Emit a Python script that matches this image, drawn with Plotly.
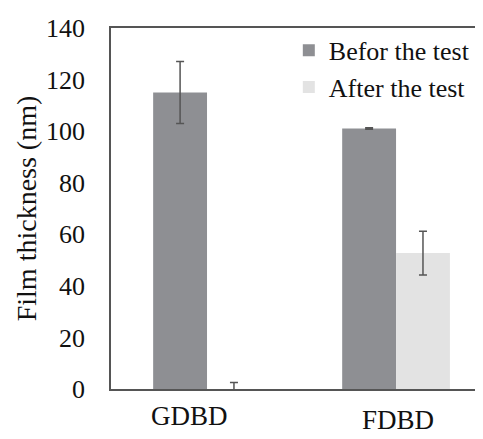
import plotly.graph_objects as go

categories = ["GDBD", "FDBD"]
before_values = [115, 101]
before_errors = [12, 0.3]
after_values = [0, 52.7]
after_errors = [2.5, 8.5]
series_names = ["Befor the test", "After the test"]
y_ticks = [0, 20, 40, 60, 80, 100, 120, 140]

font_family = "Liberation Serif, Times New Roman, serif"
err_style = dict(type="data", visible=True, color="#555555", thickness=1.5, width=4)

fig = go.Figure()
fig.add_trace(go.Bar(
    x=categories, y=before_values, name=series_names[0],
    marker=dict(color="#8e8f93", line=dict(width=0)),
    error_y=dict(array=before_errors, **err_style),
))
fig.add_trace(go.Bar(
    x=categories, y=after_values, name=series_names[1],
    marker=dict(color="#e3e3e3", line=dict(width=0)),
    error_y=dict(array=after_errors, **err_style),
))

# category labels below the axis (offsets as in the reference)
label_offsets = {"GDBD": (-18, -11), "FDBD": (2, -15)}
for cat in categories:
    dx, dy = label_offsets[cat]
    fig.add_annotation(
        x=cat, y=0, xref="x", yref="y", text=cat, showarrow=False,
        xanchor="center", yanchor="top", xshift=dx, yshift=dy, borderpad=0,
        font=dict(size=27, family=font_family, color="#111111"),
    )

# page body has an 8px default margin, so the figure is sized to fit the window
fig.update_layout(
    width=475, height=431,
    margin=dict(l=103, r=0, t=20, b=50),
    paper_bgcolor="white", plot_bgcolor="white",
    barmode="group", bargap=0.43, bargroupgap=0,
    font=dict(family=font_family, color="#111111"),
    showlegend=True,
    legend=dict(
        x=0.478, y=1.003, xanchor="left", yanchor="top",
        font=dict(size=26, family=font_family, color="#111111"),
        bgcolor="rgba(0,0,0,0)", itemwidth=30,
    ),
)
fig.update_xaxes(
    range=[-0.508, 1.46],
    showline=True, linecolor="#555555", linewidth=1.5, mirror=True,
    showgrid=False, ticks="", automargin=False, showticklabels=False,
)
fig.update_yaxes(
    range=[0, 140], tickvals=y_ticks,
    showline=True, linecolor="#555555", linewidth=1.5,
    showgrid=False, zeroline=False, ticks="", automargin=False,
    tickfont=dict(size=26, family=font_family, color="#111111"),
    ticklabelstandoff=19,
    title=dict(text="Film thickness (nm)", font=dict(size=28, family=font_family, color="#111111"), standoff=1),
)

fig.write_html("out.html")
